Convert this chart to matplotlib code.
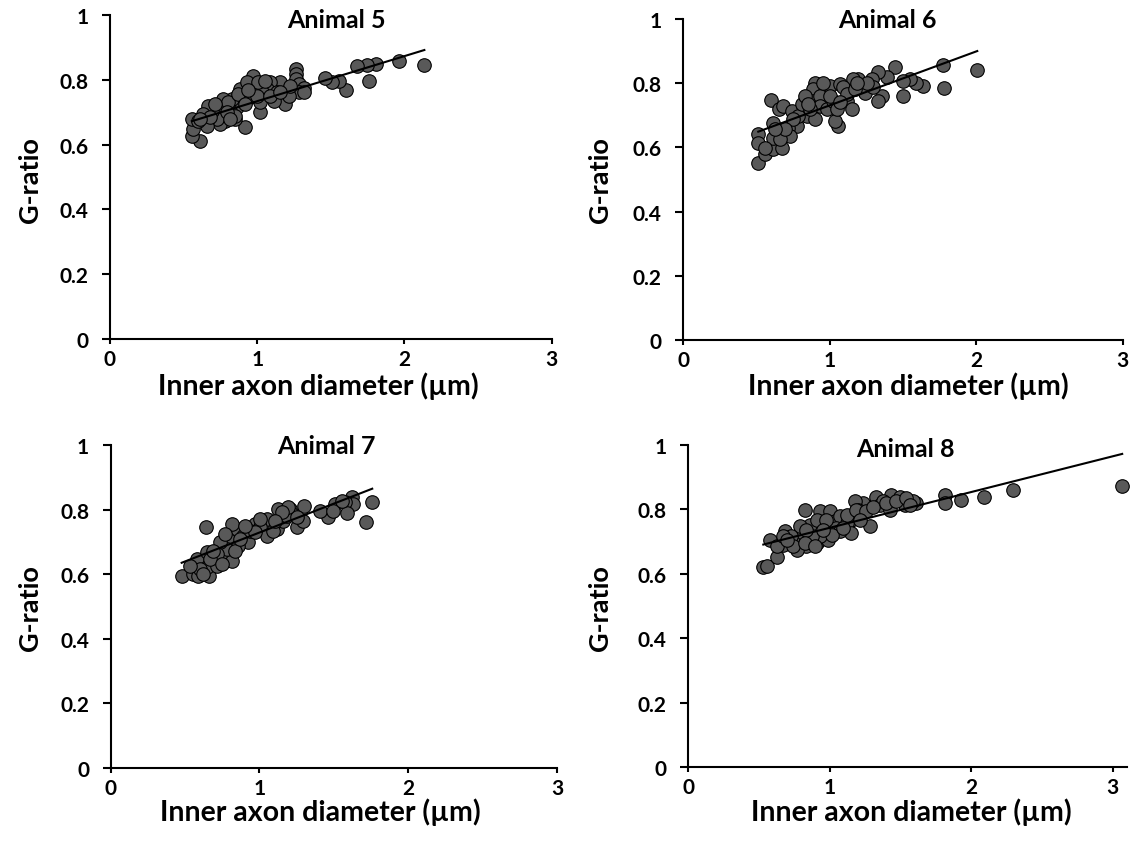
import matplotlib
matplotlib.use("Agg")
import matplotlib.pyplot as plt
import numpy as np

plt.rcParams['font.family'] = ['Lato', 'DejaVu Sans']
plt.rcParams['font.weight'] = 'bold'

titles = ["Animal 5", "Animal 6", "Animal 7", "Animal 8"]
x_label = "Inner axon diameter (µm)"
y_label = "G-ratio"
x_ticks = [0, 1, 2, 3]
y_ticks = [0, 0.2, 0.4, 0.6, 0.8, 1.0]
y_tick_labels = ["0", "0.2", "0.4", "0.6", "0.8", "1"]

# Animal 5
a5_x = [2.136, 1.961, 1.807, 1.746, 1.678, 1.757, 1.603, 1.553, 1.508, 1.463,
        1.265, 1.265, 1.265, 1.281, 1.315, 1.281, 1.190, 1.179, 1.156, 1.088,
        1.066, 1.020, 1.020, 1.032, 0.975, 0.964, 0.952, 0.918, 0.884, 0.896,
        0.862, 0.850, 0.828, 0.816, 0.782, 0.771, 0.748, 0.748, 0.726, 0.692,
        0.669, 0.658, 0.662, 0.635, 0.612, 0.556, 0.562, 0.556, 0.601, 1.134,
        1.111, 1.213, 1.224, 0.930, 1.009, 1.054, 0.805, 0.714, 0.873, 0.850,
        0.794, 0.998, 1.315, 0.941, 1.088, 0.680, 0.612, 1.156, 0.816, 0.918]
a5_y = [0.846, 0.859, 0.849, 0.846, 0.844, 0.797, 0.769, 0.795, 0.792, 0.807,
        0.833, 0.818, 0.802, 0.787, 0.774, 0.761, 0.725, 0.772, 0.792, 0.792,
        0.772, 0.700, 0.730, 0.761, 0.813, 0.782, 0.746, 0.653, 0.772, 0.736,
        0.715, 0.679, 0.741, 0.705, 0.674, 0.741, 0.705, 0.663, 0.679, 0.705,
        0.720, 0.674, 0.658, 0.694, 0.612, 0.627, 0.648, 0.679, 0.674, 0.761,
        0.736, 0.751, 0.782, 0.792, 0.792, 0.797, 0.730, 0.725, 0.756, 0.689,
        0.700, 0.751, 0.761, 0.767, 0.751, 0.684, 0.679, 0.761, 0.679, 0.725]

# Animal 6
a6_x = [2.007, 1.775, 1.780, 1.638, 1.588, 1.547, 1.502, 1.497, 1.447, 1.388,
        1.331, 1.286, 1.354, 1.331, 1.195, 1.161, 1.240, 1.058, 1.035, 0.599,
        0.512, 0.512, 0.512, 0.558, 0.615, 0.671, 0.615, 0.615, 0.656, 0.683,
        0.899, 0.887, 0.887, 0.967, 1.001, 1.069, 1.092, 0.740, 0.774, 0.819,
        0.842, 0.717, 0.728, 0.660, 0.785, 0.808, 0.933, 0.933, 0.899, 0.979,
        1.024, 1.047, 1.115, 1.149, 1.115, 1.172, 1.297, 1.252, 1.001, 0.865,
        0.831, 0.751, 0.694, 1.069, 1.183, 0.956, 0.854, 0.558, 0.626]
a6_y = [0.840, 0.856, 0.784, 0.791, 0.802, 0.813, 0.807, 0.761, 0.849, 0.820,
        0.834, 0.813, 0.761, 0.745, 0.813, 0.813, 0.771, 0.666, 0.682, 0.748,
        0.550, 0.641, 0.615, 0.578, 0.594, 0.599, 0.630, 0.677, 0.719, 0.729,
        0.802, 0.781, 0.745, 0.776, 0.792, 0.797, 0.787, 0.714, 0.666, 0.729,
        0.698, 0.661, 0.635, 0.625, 0.698, 0.734, 0.760, 0.729, 0.687, 0.719,
        0.745, 0.719, 0.745, 0.719, 0.766, 0.781, 0.787, 0.802, 0.760, 0.719,
        0.760, 0.687, 0.656, 0.740, 0.802, 0.802, 0.734, 0.599, 0.656]

# Animal 7
a7_x = [1.758, 1.713, 1.619, 1.631, 1.574, 1.586, 1.507, 1.463, 1.407, 1.301,
        1.250, 1.295, 1.205, 1.216, 1.127, 1.115, 1.048, 0.970, 0.638, 0.477,
        0.556, 0.589, 0.663, 0.578, 0.645, 0.645, 0.712, 0.768, 0.813, 0.790,
        0.846, 0.813, 0.891, 0.925, 0.779, 0.734, 0.712, 0.858, 0.936, 1.004,
        1.048, 1.093, 1.160, 1.183, 1.250, 1.194, 1.149, 1.004, 0.970, 0.768,
        0.667, 0.600, 0.533, 0.746, 0.835, 0.903, 1.496, 1.552, 0.869, 0.690,
        0.623, 1.104]
a7_y = [0.823, 0.761, 0.838, 0.817, 0.822, 0.791, 0.817, 0.776, 0.797, 0.812,
        0.745, 0.766, 0.802, 0.786, 0.802, 0.740, 0.771, 0.755, 0.745, 0.593,
        0.600, 0.595, 0.595, 0.647, 0.621, 0.668, 0.626, 0.647, 0.642, 0.709,
        0.740, 0.755, 0.719, 0.699, 0.678, 0.699, 0.663, 0.688, 0.735, 0.745,
        0.719, 0.735, 0.766, 0.781, 0.776, 0.807, 0.792, 0.771, 0.730, 0.725,
        0.647, 0.616, 0.626, 0.632, 0.673, 0.750, 0.797, 0.828, 0.709, 0.673,
        0.600, 0.766]

# Animal 8
a8_x = [3.066, 2.294, 2.087, 1.929, 1.811, 1.811, 1.612, 1.588, 1.529, 1.435,
        1.494, 1.329, 1.353, 1.424, 1.376, 1.282, 1.235, 1.177, 1.200, 1.153,
        0.824, 0.530, 0.553, 0.624, 0.577, 0.683, 0.671, 0.741, 0.812, 0.835,
        0.906, 0.929, 1.000, 1.035, 1.070, 1.118, 1.153, 0.988, 1.047, 0.929,
        0.859, 0.788, 0.729, 0.624, 0.906, 0.976, 1.070, 1.012, 0.871, 0.835,
        0.765, 0.741, 0.824, 1.118, 1.188, 1.259, 1.306, 1.400, 1.471, 1.541,
        1.565, 0.671, 0.953, 0.894, 1.212, 1.094, 0.694]
a8_y = [0.874, 0.859, 0.840, 0.828, 0.845, 0.821, 0.819, 0.825, 0.814, 0.845,
        0.840, 0.840, 0.814, 0.799, 0.825, 0.749, 0.819, 0.825, 0.799, 0.768,
        0.799, 0.622, 0.623, 0.652, 0.704, 0.732, 0.690, 0.706, 0.727, 0.685,
        0.696, 0.794, 0.794, 0.763, 0.778, 0.757, 0.727, 0.706, 0.742, 0.716,
        0.752, 0.747, 0.716, 0.685, 0.768, 0.768, 0.732, 0.721, 0.716, 0.737,
        0.675, 0.685, 0.696, 0.783, 0.799, 0.794, 0.809, 0.819, 0.825, 0.835,
        0.814, 0.716, 0.737, 0.685, 0.768, 0.742, 0.706]

# linear trendlines (slope, intercept)
trend_slope = [0.139, 0.168, 0.179, 0.111]
trend_intercept = [0.595, 0.563, 0.550, 0.632]

xs = [a5_x, a6_x, a7_x, a8_x]
ys = [a5_y, a6_y, a7_y, a8_y]
x_max = [3.0, 3.0, 3.0, 3.1]

W, H = 1139, 854
fig = plt.figure(figsize=(W / 100, H / 100), dpi=100)

# pixel boxes: left, right, top, bottom
boxes = [(110, 551.5, 16, 340), (683.3, 1122.7, 20, 341),
         (110.7, 557, 446, 769), (688.3, 1127, 446, 768)]
title_pos = [(336, 21), (887, 20), (326, 447), (905, 450)]
xlabel_pos = [(318, 386), (908, 386), (320, 812), (911, 812)]
ylabel_pos = [(30, 180), (600, 180), (30, 608), (600, 608)]

for i in range(4):
    l, r, t, b = boxes[i]
    ax = fig.add_axes([l / W, 1 - b / H, (r - l) / W, (b - t) / H])
    x = np.array(xs[i]); y = np.array(ys[i])
    ax.scatter(x, y, s=95, facecolor='#595959', edgecolor='black',
               linewidth=0.8, zorder=3, clip_on=False)
    lx = np.array([x.min(), x.max()])
    ax.plot(lx, trend_slope[i] * lx + trend_intercept[i], color='black',
            lw=1.5, zorder=4, clip_on=False)
    ax.set_xlim(0, x_max[i])
    ax.set_ylim(0, 1)
    ax.set_xticks(x_ticks)
    ax.set_xticklabels([str(v) for v in x_ticks])
    ax.set_yticks(y_ticks)
    ax.set_yticklabels(y_tick_labels)
    for s in ['top', 'right']:
        ax.spines[s].set_visible(False)
    for s in ['left', 'bottom']:
        ax.spines[s].set_linewidth(1.5)
    ax.tick_params(axis='y', direction='out', length=5.5, width=1.5,
                   labelsize=15, pad=10)
    ax.tick_params(axis='x', direction='out', length=3.5, width=1.5,
                   labelsize=15, pad=4)
    for lab in ax.get_xticklabels() + ax.get_yticklabels():
        lab.set_fontweight('bold')
    tx, ty = title_pos[i]
    fig.text(tx / W, 1 - ty / H, titles[i], ha='center', va='center',
             fontsize=18, fontweight='bold')
    lx_, ly_ = xlabel_pos[i]
    fig.text(lx_ / W, 1 - ly_ / H, x_label, ha='center', va='center',
             fontsize=20.5, fontweight='bold')
    gx, gy = ylabel_pos[i]
    fig.text(gx / W, 1 - gy / H, y_label, ha='center', va='center',
             rotation=90, fontsize=19.5, fontweight='bold')

fig.savefig("out.png", dpi=100)
